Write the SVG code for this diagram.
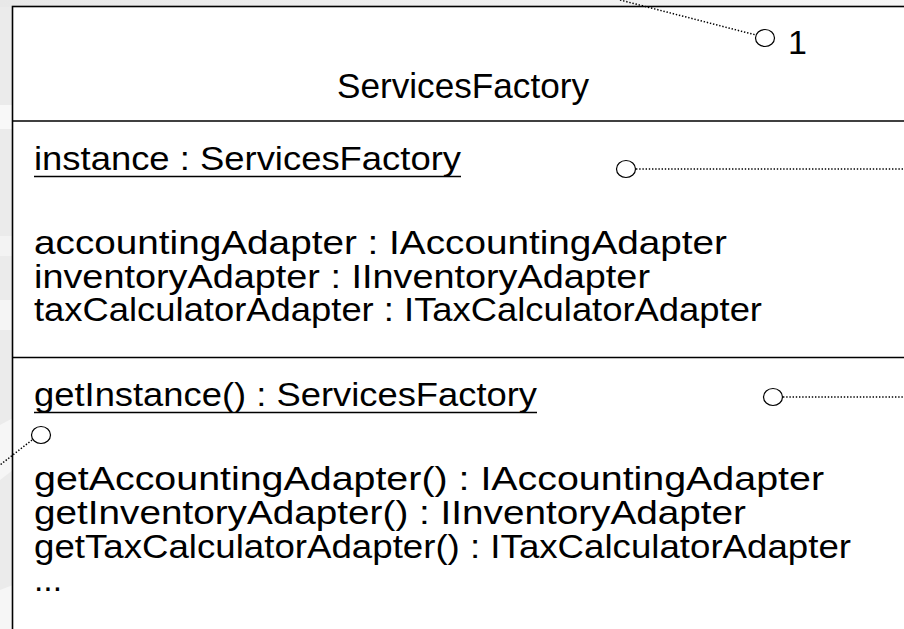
<svg xmlns="http://www.w3.org/2000/svg" width="904" height="629" viewBox="0 0 904 629">
<style>
.t{font-family:"Liberation Sans",Arial,Helvetica,sans-serif;font-size:34px;fill:#000}
.dot{stroke:#000;stroke-width:1.5;stroke-dasharray:1.4 1.8;fill:none}
.ring{fill:#fff;stroke:#000;stroke-width:1.2}
.u{stroke:#000;stroke-width:1.6}
</style>
<defs>
<linearGradient id="topg" x1="0" x2="1" y1="0" y2="0">
<stop offset="0" stop-color="#e8e8e8"/><stop offset="1" stop-color="#f6f6f6"/>
</linearGradient>
</defs>
<rect width="904" height="629" fill="#ebebeb"/>
<rect x="0" y="0" width="904" height="7" fill="url(#topg)"/>
<rect x="0" y="105" width="13" height="24" fill="#f8f8f8"/>
<rect x="0" y="236" width="13" height="20" fill="#f3f3f3"/>
<rect x="0" y="300" width="13" height="30" fill="#f5f5f5"/>
<polygon points="0,425 13,418 13,470 0,480" fill="#f6f6f6"/>
<polygon points="0,590 13,585 13,629 0,629" fill="#f6f6f6"/>
<g id="ServicesFactory">
<rect x="12.5" y="6.5" width="920" height="650" fill="#fff" stroke="#000" stroke-width="1.6"/>
<line x1="12.5" y1="121" x2="904" y2="121" stroke="#000" stroke-width="1.6"/>
<line x1="12.5" y1="357.5" x2="904" y2="357.5" stroke="#000" stroke-width="1.6"/>
<text class="t" x="463" y="98" text-anchor="middle" style="font-size:35px" textLength="252" lengthAdjust="spacingAndGlyphs">ServicesFactory</text>
<text class="t" x="34" y="170" textLength="427" lengthAdjust="spacingAndGlyphs">instance : ServicesFactory</text>
<line class="u" x1="34" y1="176.5" x2="461" y2="176.5"/>
<text class="t" x="34" y="254" textLength="693" lengthAdjust="spacingAndGlyphs">accountingAdapter : IAccountingAdapter</text>
<text class="t" x="34" y="287.5" textLength="616" lengthAdjust="spacingAndGlyphs">inventoryAdapter : IInventoryAdapter</text>
<text class="t" x="34" y="321" textLength="728" lengthAdjust="spacingAndGlyphs">taxCalculatorAdapter : ITaxCalculatorAdapter</text>
<text class="t" x="34" y="406" textLength="503" lengthAdjust="spacingAndGlyphs">getInstance() : ServicesFactory</text>
<line class="u" x1="34" y1="412.5" x2="537" y2="412.5"/>
<text class="t" x="34" y="490" textLength="790" lengthAdjust="spacingAndGlyphs">getAccountingAdapter() : IAccountingAdapter</text>
<text class="t" x="34" y="524" textLength="712" lengthAdjust="spacingAndGlyphs">getInventoryAdapter() : IInventoryAdapter</text>
<text class="t" x="34" y="557.5" textLength="817" lengthAdjust="spacingAndGlyphs">getTaxCalculatorAdapter() : ITaxCalculatorAdapter</text>
<text class="t" x="34" y="591" textLength="28" lengthAdjust="spacingAndGlyphs">...</text>
<text class="t" x="788" y="54">1</text>
</g>
<g id="connectors">
<line class="dot" x1="620" y1="0" x2="756" y2="35"/>
<line class="dot" x1="636" y1="169" x2="904" y2="169"/>
<line class="dot" x1="783" y1="397" x2="904" y2="397"/>
<line class="dot" x1="32" y1="440" x2="0" y2="465"/>
<ellipse class="ring" cx="765" cy="38" rx="9.5" ry="8.5"/>
<ellipse class="ring" cx="626" cy="169" rx="9.5" ry="8.5"/>
<ellipse class="ring" cx="773" cy="397" rx="9.5" ry="8.5"/>
<ellipse class="ring" cx="41" cy="435" rx="9.5" ry="8.5"/>
</g>
</svg>
